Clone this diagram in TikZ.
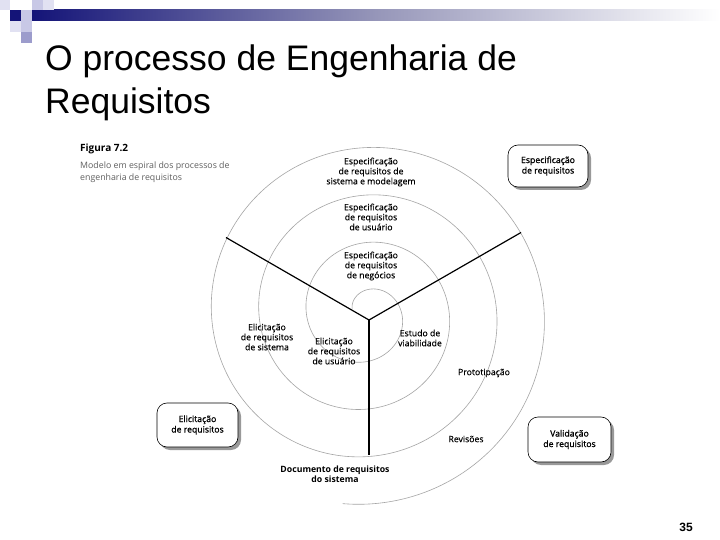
\documentclass[tikz,border=0pt]{standalone}
\usepackage{fontspec}
\setmainfont{Liberation Sans}
\newfontfamily\figfont[FakeBold=0.25]{Open Sans}
\newfontfamily\figboxfont[FakeBold=1.1]{Open Sans}
\newfontfamily\figplain{Open Sans}
\usetikzlibrary{shapes.misc}
\definecolor{navy}{RGB}{20,20,120}
\definecolor{lav1}{RGB}{200,200,230}
\definecolor{lav2}{RGB}{225,225,242}
\definecolor{lav3}{RGB}{156,156,204}
\definecolor{spir}{RGB}{165,165,165}
\definecolor{captgray}{RGB}{95,95,95}
\begin{document}
\begin{tikzpicture}[x=1pt,y=-1pt,
  lbl/.style={font=\figfont\fontsize{8.7}{10}\selectfont, align=center, inner sep=0pt},
  boxlbl/.style={font=\figboxfont\fontsize{8.7}{10.5}\selectfont, align=center, inner sep=0pt},
  blbl/.style={font=\figplain\bfseries\fontsize{8.7}{10}\selectfont, align=center, inner sep=0pt},
  procbox/.style={draw=black, line width=0.6pt, fill=white, rounded corners=10pt},
  shadowbox/.style={fill=black!40, rounded corners=10pt},
  spokeline/.style={line width=1.2pt, black},
  spiralline/.style={line width=0.6pt, spir}
]
\useasboundingbox (0,0) rectangle (720,540);
\fill[white] (0,0) rectangle (720,540);
% header
\shade[left color=navy, right color=white, middle color={rgb,255:red,150;green,150;blue,185}] (32,10) rectangle (720,21);
\fill[lav2] (0,0) rectangle (10,10);
\fill[navy] (10,10) rectangle (21,21);
\fill[lav1] (21,10) rectangle (32,21);
\fill[lav1] (32,0) rectangle (43,10);
\fill[lav2] (43,0) rectangle (54,10);
\fill[lav2] (10,21) rectangle (21,32);
\fill[lav1] (21,21) rectangle (32,32);
\fill[lav3] (21,32) rectangle (32,43);
% title
\node[anchor=base west, inner sep=0pt, font=\fontsize{35.5}{43}\selectfont] (t1) at (45,71) {O processo de Engenharia de};
\node[anchor=base west, inner sep=0pt, font=\fontsize{35.5}{43}\selectfont] (t2) at (45,114) {Requisitos};
% caption
\node[anchor=base west, inner sep=0pt, font=\figplain\bfseries\fontsize{10}{12}\selectfont] (fig) at (80,152) {Figura 7.2};
\node[anchor=base west, inner sep=0pt, text=captgray, font=\figplain\fontsize{8.8}{11}\selectfont] (cap1) at (80,169) {Modelo em espiral dos processos de};
\node[anchor=base west, inner sep=0pt, text=captgray, font=\figplain\fontsize{8.8}{11}\selectfont] (cap2) at (80,181) {engenharia de requisitos};
% spiral (Archimedean, centre slightly off the spoke junction)
\coordinate (C) at (369,320);
\draw[spiralline] plot[domain=20:1357, samples=500, variable=\t, smooth]
  ({366 - (12.1+0.1319*\t)*cos(\t)}, {314 - (12.1+0.1319*\t)*sin(\t)});
% spokes
\coordinate (L) at (226,237.5);
\coordinate (R) at (521,232.5);
\coordinate (B) at (369,455);
\draw[spokeline] (C) -- (L);
\draw[spokeline] (C) -- (R);
\draw[spokeline] (C) -- (B);
% spiral labels
\node[lbl] (s1) at (371,172) {Especificação\\de requisitos de\\sistema e modelagem};
\node[lbl] (s2) at (371,217) {Especificação\\de requisitos\\de usuário};
\node[lbl] (s3) at (371,266) {Especificação\\de requisitos\\de negócios};
\node[lbl] (e1) at (267,337) {Elicitação\\de requisitos\\de sistema};
\node[lbl] (e2) at (334,351) {Elicitação\\de requisitos\\de usuário};
\node[lbl] (ev) at (420,338) {Estudo de\\viabilidade};
\node[lbl] (pr) at (484,373) {Prototipação};
\node[lbl] (rv) at (466,439) {Revisões};
\node[blbl] (doc) at (335,474) {Documento de requisitos\\do sistema};
% boxes
\fill[shadowbox] (511,148) rectangle (591,190);
\node[procbox, minimum width=80pt, minimum height=42pt, inner sep=0pt] (bs) at (548,166) {};
\node[boxlbl] at (bs) {Especificação\\de requisitos};
\fill[shadowbox] (160,406) rectangle (241,450);
\node[procbox, minimum width=81pt, minimum height=44pt, inner sep=0pt] (be) at (197.5,425) {};
\node[boxlbl] at (be) {Elicitação\\de requisitos};
\fill[shadowbox] (531,420) rectangle (614,465);
\node[procbox, minimum width=83pt, minimum height=45pt, inner sep=0pt] (bv) at (569.5,439.5) {};
\node[boxlbl] at (bv) {Validação\\de requisitos};
% page number
\node[inner sep=0pt, font=\bfseries\fontsize{12}{14}\selectfont] (pg) at (686,527) {35};
\end{tikzpicture}
\end{document}
